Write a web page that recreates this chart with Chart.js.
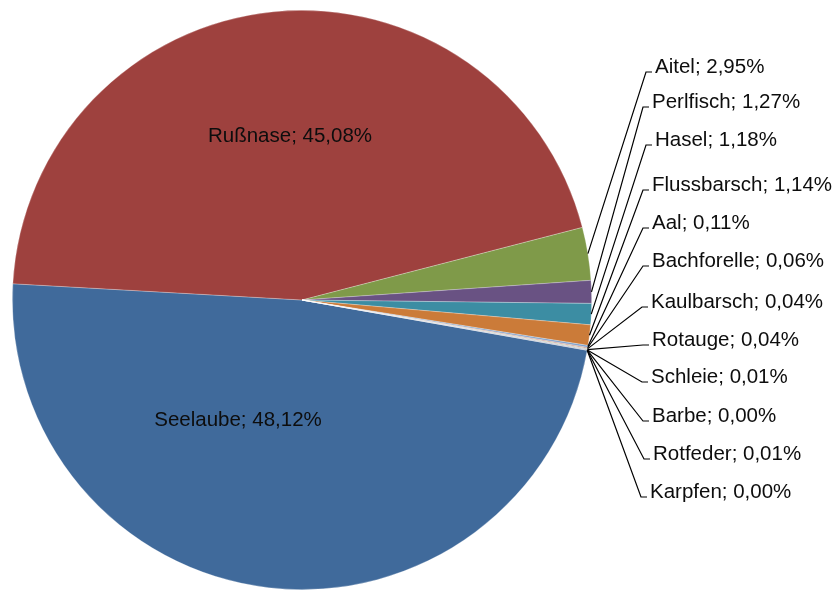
<!DOCTYPE html>
<html>
<head>
<meta charset="utf-8">
<script src="https://cdn.jsdelivr.net/npm/chart.js@4"></script>
<style>
  html, body { margin: 0; padding: 0; background: #fff; }
  #wrap { width: 837px; height: 590px; }
</style>
</head>
<body>
<div id="wrap"><canvas id="pie" width="837" height="590"></canvas></div>
<script>
// Daten (Anteile in %)
const fischarten = ['Seelaube', 'Rußnase', 'Aitel', 'Perlfisch', 'Hasel', 'Flussbarsch', 'Aal',
  'Bachforelle', 'Kaulbarsch', 'Rotauge', 'Schleie', 'Barbe', 'Rotfeder', 'Karpfen'];
const anteile = [48.12, 45.08, 2.95, 1.27, 1.18, 1.14, 0.11, 0.06, 0.04, 0.04, 0.01, 0.00, 0.01, 0.00];

const farben = ['#406a9b', '#9e413e', '#7f9a49', '#695283', '#3c8da3', '#cb7b39',
  '#7fa0c8', '#c88583', '#b0c685', '#a08fb8', '#80bccd', '#e8a978', '#2d4c70', '#722f2d'];

// Layout der Beschriftungen (außen)
const labelLeft = [655, 652, 655, 652, 652, 652, 651, 652, 651, 652, 653, 650];
const labelY = [67, 102, 140, 185, 223, 261, 302, 340, 377, 416, 454, 492];
// innen: Versatz zum Mittelpunkt
const innenOffset = [[-64, 120], [-12, -164]];

const FONT = '20.5px "Liberation Sans", Arial, sans-serif';

const fmt = v => v.toFixed(2).replace('.', ',') + '%';

const beschriftung = {
  id: 'beschriftung',
  afterDraw(chart) {
    const ctx = chart.ctx;
    const arcs = chart.getDatasetMeta(0).data;
    ctx.save();
    ctx.font = FONT;
    ctx.fillStyle = '#0d0d0d';
    ctx.textBaseline = 'middle';
    arcs.forEach((arc, i) => {
      const p = arc.getProps(['x', 'y', 'startAngle', 'endAngle', 'outerRadius'], true);
      const text = fischarten[i] + '; ' + fmt(anteile[i]);
      if (i < 2) {
        ctx.textAlign = 'center';
        ctx.fillText(text, p.x + innenOffset[i][0], p.y + innenOffset[i][1]);
        return;
      }
      const k = i - 2;
      const mid = (p.startAngle + p.endAngle) / 2;
      const ex = p.x + Math.cos(mid) * p.outerRadius;
      const ey = p.y + Math.sin(mid) * p.outerRadius;
      const lx = labelLeft[k], ly = labelY[k];
      ctx.strokeStyle = '#000';
      ctx.lineWidth = 1.2;
      ctx.beginPath();
      ctx.moveTo(ex, ey);
      ctx.lineTo(lx - 9, ly + 5);
      ctx.lineTo(lx - 3, ly + 5);
      ctx.stroke();
      ctx.textAlign = 'left';
      ctx.fillText(text, lx, ly);
    });
    ctx.restore();
  }
};

new Chart(document.getElementById('pie'), {
  type: 'pie',
  data: {
    labels: fischarten,
    datasets: [{
      data: anteile,
      backgroundColor: farben,
      borderColor: 'rgba(255,255,255,0.35)',
      borderWidth: 0.75
    }]
  },
  options: {
    responsive: false,
    animation: false,
    rotation: 100,
    layout: { padding: { left: 11, right: 244, top: 10, bottom: -2 } },
    plugins: {
      legend: { display: false },
      tooltip: { enabled: false }
    }
  },
  plugins: [beschriftung]
});
</script>
</body>
</html>
